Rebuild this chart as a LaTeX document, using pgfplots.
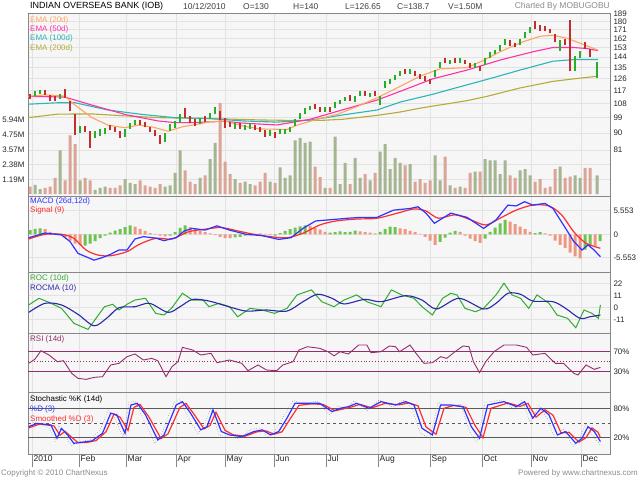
\documentclass[border=0pt]{standalone}
\usepackage{pgfplots}
\pgfplotsset{compat=1.18}
\usepackage{fontspec}
\setmainfont{Liberation Sans}
\definecolor{upc}{RGB}{40,175,40}
\definecolor{dnc}{RGB}{195,45,45}
\definecolor{vup}{RGB}{165,180,145}
\definecolor{vdn}{RGB}{218,165,150}
\definecolor{hup}{RGB}{110,195,80}
\definecolor{hdn}{RGB}{238,150,130}
\definecolor{ema20}{RGB}{255,165,95}
\definecolor{ema50}{RGB}{255,50,165}
\definecolor{ema100}{RGB}{45,180,180}
\definecolor{ema200}{RGB}{180,172,55}
\definecolor{rsic}{RGB}{150,45,110}
\definecolor{gridc}{RGB}{226,226,226}
\definecolor{panelbg}{RGB}{246,246,246}
\definecolor{framec}{RGB}{135,135,135}
\definecolor{macdc}{RGB}{50,50,255}
\definecolor{sigc}{RGB}{255,45,45}
\definecolor{rocc}{RGB}{50,170,50}
\definecolor{rocmac}{RGB}{40,40,170}
\newcommand{\fs}[1]{\fontsize{#1}{#1}\selectfont}
\pgfplotsset{
 panel/.style={scale only axis, width=582bp, xmin=28, xmax=610,
   xtick={32,79,126,176,225,274,326,378,430,482,531,581}, xticklabels={},
   axis line style={draw=framec, line width=0.8bp},
   major tick length=0pt,
   grid style={draw=gridc, line width=0.7bp},
   tick label style={font=\fs{8}, text=black!85},
   yticklabel pos=right,
   /pgf/number format/assume math mode=true,
   unbounded coords=jump, filter discard warning=false,
 },
}
\begin{document}
\begin{tikzpicture}
\path[use as bounding box, fill=white] (0,0) rectangle (640bp,480bp);
% ---------- price panel: background and grid
\begin{axis}[panel, at={(28bp,284bp)}, anchor=south west, height=183bp,
  ymode=log, ymin=60.9, ymax=189.5,
  ytick={81,90,99,108,117,126,135,144,153,162,171,180,189}, yticklabels={},
  xmajorgrids, ymajorgrids, axis background/.style={fill=panelbg}]
\addplot[draw=none] coordinates {(100,100)};
\end{axis}
% ---------- volume
\begin{axis}[panel, at={(28bp,284bp)}, anchor=south west, height=183bp,
  ymin=-0.15, ymax=14.5, yticklabel pos=left,
  ytick={1.19,2.38,3.57,4.75,5.94}, yticklabels={1.19M,2.38M,3.57M,4.75M,5.94M},
  extra y ticks={1.19,2.38}, extra y tick labels={}, extra y tick style={grid=major}]
\addplot[ybar, bar width=3, bar shift=0pt, fill=vup, draw=none] coordinates {
(35,0.75)(40,0.4)(60,3.5)(80,1.1)(95,0.35)(100,0.5)(105,0.6)(125,1.2)(130,0.9)(135,0.8)(165,0.6)(170,0.7)(175,1.7)(180,3.5)(200,1.3)(210,2.8)(215,4.1)(235,1.2)(245,1.0)(250,0.8)(270,1.0)(280,2.15)(285,1.3)(290,1.5)(295,4.3)(300,4.5)(305,4.1)(310,4.2)(325,0.5)(335,4.6)(340,0.8)(345,2.5)(355,2.9)(360,1.3)(370,1.1)(380,3.4)(385,4.0)(390,2.0)(395,2.9)(400,2.5)(410,2.4)(435,3.1)(440,1.1)(450,0.7)(460,0.6)(475,1.8)(485,2.8)(490,2.7)(495,2.7)(500,1.6)(505,2.7)(520,1.9)(525,2.0)(530,1.5)(560,2.2)(575,1.5)(580,1.3)(597,1.5)};
\addplot[ybar, bar width=3, bar shift=0pt, fill=vdn, draw=none] coordinates {
(30,0.6)(45,0.5)(50,0.6)(55,1.3)(65,1.1)(70,4.7)(75,4.0)(85,1.3)(90,1.1)(110,0.5)(115,0.5)(120,0.7)(140,1.1)(145,0.7)(150,0.6)(155,0.5)(160,0.8)(185,1.9)(190,1.0)(195,0.8)(205,1.5)(220,7.3)(225,2.6)(230,1.6)(240,0.9)(255,0.7)(260,1.0)(265,1.7)(275,0.9)(315,2.2)(320,1.36)(330,0.5)(350,0.8)(365,1.6)(375,1.7)(405,2.3)(415,1.0)(420,1.2)(425,0.9)(430,1.1)(445,3.0)(455,0.5)(465,0.5)(470,1.7)(480,1.8)(510,1.5)(515,1.3)(535,1.0)(540,1.2)(545,0.5)(550,0.6)(555,2.0)(565,1.3)(570,1.4)(585,2.1)(590,2.1)};
\end{axis}
% ---------- price bars and EMAs
\begin{axis}[panel, at={(28bp,284bp)}, anchor=south west, height=183bp,
  ymode=log, ymin=60.9, ymax=189.5,
  ytick={81,90,99,108,117,126,135,144,153,162,171,180,189},
  yticklabels={81,90,99,108,117,126,135,144,153,162,171,180,189}]
\addplot[ema200, line width=1.1bp] coordinates {(28,99)(58,101.2)(92,101.3)(125,100.1)(158,99)(192,98.6)(225,98.2)(260,97.6)(293,97.3)(320,97.3)(343,98)(377,100.4)(400,102.5)(420,105)(467,110)(487,113)(520,119)(553,124)(580,126.5)(598,128)};
\addplot[ema100, line width=1.1bp] coordinates {(28,107.6)(58,108.6)(75,108.6)(108,103.8)(142,101)(175,99)(208,98.5)(243,97)(277,96.3)(310,97.5)(343,100.7)(377,103.8)(400,109)(433,114.5)(453,118.5)(487,125.5)(520,133)(553,140.5)(575,142)(598,142)};
\addplot[ema50, line width=1.1bp] coordinates {(28,113)(65,112.5)(75,110.4)(92,107)(125,101)(158,97)(175,96)(192,96)(225,96.8)(243,95.7)(277,94.6)(310,98)(343,104)(377,110.4)(400,116.5)(433,126)(467,133)(500,141.5)(533,149)(553,153)(573,153)(587,152)(598,150)};
\addplot[ema20, line width=1.1bp] coordinates {(28,113)(45,114)(60,113.5)(65,113)(75,107)(92,99)(108,94.5)(125,93)(138,94.5)(152,93.5)(168,91)(182,93.5)(202,95.5)(210,96.5)(225,97)(243,94)(260,92.3)(287,92)(297,94.5)(317,98)(337,101)(357,106)(377,112)(397,119)(420,128)(440,134)(467,135)(483,141)(500,149)(523,158.5)(540,164)(553,165)(567,162)(583,156)(598,150.5)};
\addplot[upc, line width=1.5bp] table[row sep=\\] {
x y\\
35 113\\35 117\\35 nan\\
40 114.5\\40 117.5\\40 nan\\
60 111\\60 115\\60 nan\\
80 90\\80 94\\80 nan\\
95 87.5\\95 91\\95 nan\\
100 88.5\\100 92\\100 nan\\
105 89.5\\105 93\\105 nan\\
125 88\\125 92\\125 nan\\
130 92.5\\130 96\\130 nan\\
135 94.5\\135 97.5\\135 nan\\
165 85\\165 90\\165 nan\\
170 91\\170 95\\170 nan\\
175 93\\175 97\\175 nan\\
180 96\\180 101\\180 nan\\
200 95\\200 99\\200 nan\\
210 98\\210 102\\210 nan\\
215 101\\215 106\\215 nan\\
235 92.5\\235 95.5\\235 nan\\
245 91.5\\245 94.5\\245 nan\\
250 92.5\\250 95.5\\250 nan\\
270 88.5\\270 91.5\\270 nan\\
280 89.5\\280 92.5\\280 nan\\
285 89.5\\285 92.5\\285 nan\\
290 90.5\\290 93.5\\290 nan\\
295 94\\295 98\\295 nan\\
300 98\\300 102\\300 nan\\
305 101\\305 105\\305 nan\\
310 103.5\\310 106.5\\310 nan\\
325 102.5\\325 105.5\\325 nan\\
335 105\\335 109\\335 nan\\
340 107.5\\340 110.5\\340 nan\\
345 109.5\\345 112.5\\345 nan\\
355 109\\355 113\\355 nan\\
360 113.5\\360 117\\360 nan\\
370 112.5\\370 115.5\\370 nan\\
380 107\\380 113\\380 nan\\
385 119\\385 124\\385 nan\\
390 122\\390 126\\390 nan\\
395 125\\395 129\\395 nan\\
400 128\\400 132\\400 nan\\
410 130\\410 134\\410 nan\\
435 127\\435 133\\435 nan\\
440 135\\440 140\\440 nan\\
450 138\\450 142\\450 nan\\
460 139\\460 143\\460 nan\\
475 135\\475 139\\475 nan\\
485 137\\485 143\\485 nan\\
490 143\\490 149\\490 nan\\
495 147\\495 151\\495 nan\\
500 150\\500 155\\500 nan\\
505 155\\505 161\\505 nan\\
520 155\\520 161\\520 nan\\
525 162\\525 168\\525 nan\\
530 167\\530 174\\530 nan\\
560 150\\560 160\\560 nan\\
575 132\\575 145\\575 nan\\
580 143\\580 150\\580 nan\\
597 126.65\\597 140\\597 nan\\
};
\addplot[dnc, line width=1.5bp] table[row sep=\\] {
x y\\
30 111\\30 115\\30 nan\\
45 114\\45 117.5\\45 nan\\
50 110\\50 114\\50 nan\\
55 109.5\\55 113\\55 nan\\
65 112\\65 118\\65 nan\\
70 103\\70 110\\70 nan\\
75 89\\75 101\\75 nan\\
85 90.5\\85 94\\85 nan\\
90 82\\90 91\\90 nan\\
110 91.5\\110 94.5\\110 nan\\
115 90.5\\115 93.5\\115 nan\\
120 87\\120 91\\120 nan\\
140 94.5\\140 97.5\\140 nan\\
145 93.5\\145 96.5\\145 nan\\
150 90.5\\150 93.5\\150 nan\\
155 88.5\\155 91.5\\155 nan\\
160 84\\160 89\\160 nan\\
185 99\\185 105\\185 nan\\
190 96\\190 100\\190 nan\\
195 94\\195 98\\195 nan\\
205 96.5\\205 100\\205 nan\\
220 97.5\\220 103\\220 nan\\
225 93\\225 99\\225 nan\\
230 93.5\\230 96.5\\230 nan\\
240 92.5\\240 95.5\\240 nan\\
255 91.5\\255 94.5\\255 nan\\
260 90.5\\260 93.5\\260 nan\\
265 88\\265 91.5\\265 nan\\
275 87.5\\275 90.5\\275 nan\\
315 104.5\\315 107.5\\315 nan\\
320 102.5\\320 105.5\\320 nan\\
330 102.5\\330 105.5\\330 nan\\
350 110\\350 114\\350 nan\\
365 113.5\\365 116.5\\365 nan\\
375 113\\375 116.5\\375 nan\\
405 130\\405 134\\405 nan\\
415 128\\415 132\\415 nan\\
420 126\\420 130\\420 nan\\
425 124\\425 128\\425 nan\\
430 122\\430 126\\430 nan\\
445 139\\445 143\\445 nan\\
455 139\\455 143\\455 nan\\
465 138\\465 142\\465 nan\\
470 135\\470 139\\470 nan\\
480 132\\480 136\\480 nan\\
510 154\\510 160\\510 nan\\
515 153\\515 157\\515 nan\\
535 172\\535 180\\535 nan\\
540 170\\540 176\\540 nan\\
545 169\\545 175\\545 nan\\
550 167\\550 172\\550 nan\\
555 158\\555 166\\555 nan\\
565 155\\565 161\\565 nan\\
570 132\\570 181\\570 nan\\
585 152\\585 158\\585 nan\\
590 144\\590 152\\590 nan\\
};
\end{axis}
% ---------- MACD
\begin{axis}[panel, at={(28bp,208bp)}, anchor=south west, height=76bp,
  ymin=-8.9, ymax=9.05, ytick={-5.553,0,5.553}, yticklabels={-5.553,0,5.553},
  xmajorgrids, ymajorgrids, axis background/.style={fill=panelbg}]
\addplot[ybar, bar width=3, bar shift=0pt, fill=hup, draw=none] coordinates {
(30,1.0)(35,1.3)(40,1.4)(85,-2.7)(90,-2.2)(95,-1.6)(100,-0.9)(105,-0.3)(110,0.4)(115,0.9)(120,1.2)(125,1.7)(130,2.1)(170,-0.3)(175,0.5)(180,1.5)(185,2.1)(235,-0.7)(240,-0.6)(245,-0.3)(250,-0.2)(255,0.1)(275,-0.3)(280,0.3)(285,0.8)(290,1.2)(295,1.6)(300,1.9)(305,2.1)(330,0.4)(335,0.5)(340,0.7)(345,0.5)(350,0.6)(355,0.9)(380,0.6)(385,1.3)(390,1.8)(395,1.7)(440,-1.8)(445,-0.8)(450,0.4)(455,0.8)(485,-1.0)(490,0.6)(495,1.6)(500,2.6)(505,3.4)(535,0.3)(540,0.5)(585,-3.6)(590,-2.6)(600,-1.6)};
\addplot[ybar, bar width=3, bar shift=0pt, fill=hdn, draw=none] coordinates {
(45,1.2)(50,0.6)(55,0.3)(60,0.1)(65,-0.8)(70,-1.5)(75,-2.2)(80,-2.5)(135,1.8)(140,1.3)(145,0.8)(150,0.3)(155,0.1)(160,-0.3)(165,-0.5)(190,1.7)(195,1.2)(200,0.8)(205,0.5)(210,0.2)(215,-0.2)(220,-0.6)(225,-0.9)(230,-0.9)(260,0.2)(265,0.1)(270,-0.2)(310,2.0)(315,1.6)(320,1.1)(325,0.6)(360,0.7)(365,0.5)(370,0.4)(375,0.2)(400,1.4)(405,1.2)(410,0.8)(415,0.5)(420,0.1)(425,-0.6)(430,-1.5)(435,-2.5)(460,0.6)(465,-0.3)(470,-1.0)(475,-1.6)(480,-2.0)(510,3.0)(515,2.4)(520,1.8)(525,1.2)(530,0.6)(545,0.2)(550,-0.3)(555,-1.5)(560,-2.5)(565,-3.2)(570,-4.3)(575,-5.2)(580,-5.7)(595,-2.8)};
\addplot[sigc, line width=1.2bp, smooth] coordinates {(28.7,-1.1)(45,0)(61.5,0)(73.8,-0.95)(86,-3.7)(98,-4.9)(110.7,-5.05)(127,-4.1)(139,-2.4)(155.7,-0.95)(172,-1.1)(188.5,0.6)(205,1.2)(221,1.6)(237.7,0.8)(254,0)(270.5,-0.55)(287,-0.8)(303,0.25)(319.7,2.2)(336,3.15)(356.6,3.6)(377,3.8)(397.5,5.0)(414,6.0)(426,5.5)(438.5,3.8)(455,4.6)(471,3.4)(485.7,2.2)(500,3.8)(516,5.7)(532.8,6.9)(549,6.7)(561.5,4.6)(573.8,0.6)(586,-2.1)(600.4,-3.3)};
\addplot[macdc, line width=1.2bp] coordinates {(28.7,-0.8)(45,0.3)(61.5,-0.15)(70,-1.7)(78,-4.5)(86,-5.3)(94,-6.1)(102.5,-5.5)(110.7,-4.7)(119,-3.7)(127,-3.7)(135,-1.1)(143.4,-0.55)(155.7,-0.9)(164,-1.5)(176,-0.8)(184.4,0.8)(192.6,1.4)(205,1.0)(217,2.0)(229.5,1.0)(246,0)(262,-0.3)(278.7,-1.2)(291,-0.8)(303,1.4)(315.6,3.15)(328,3.4)(348,3.8)(360.7,4.0)(377,4.0)(393.4,5.7)(410,6.1)(418,6.5)(426,5.0)(434.4,2.6)(450.8,5.0)(467,4.0)(483.6,1.4)(496,3.4)(508,6.9)(516,6.7)(524.6,7.7)(532.8,6.9)(545,7.3)(553,6.1)(565.6,1.4)(573.8,-1.7)(582,-3.7)(588,-2.5)(594,-3.7)(600.4,-5.3)};
\end{axis}
% ---------- ROC
\begin{axis}[panel, at={(28bp,147bp)}, anchor=south west, height=61bp,
  ymin=-23.2, ymax=32.7, ytick={-11,0,11,22}, yticklabels={-11,0,11,22},
  xmajorgrids, ymajorgrids, axis background/.style={fill=panelbg}]
\addplot[rocc, line width=1bp] coordinates {(28.7,2.5)(39,8.6)(49,4.9)(61.5,-0.6)(74,-14.4)(88,-19.9)(96,-9.8)(104.5,0.9)(112.7,3.1)(119,-2.1)(127,3.1)(135,7.0)(145.5,8.6)(155.7,-5.2)(164,-6.7)(172,0)(182.4,13.2)(192.6,7.0)(203,7.0)(209,0.9)(219,4.0)(229.5,0.9)(237.7,-8.3)(250,-0.6)(262,-2.1)(274.6,-5.2)(287,-0.6)(297,11.7)(311.5,16.3)(321.7,5.5)(334,0.9)(344,7.0)(356.6,11.7)(366.8,5.5)(381,0.9)(391.4,16.3)(401.6,11.7)(414,8.6)(422,0.9)(432.4,-6.7)(442.6,8.6)(450.8,13.2)(457,11.7)(465,-0.6)(475.4,-3.7)(483.6,-0.6)(496,11.7)(504,22.4)(512,11.7)(520.5,8.6)(528.7,-0.6)(537,11.7)(549,4.0)(557,-6.7)(567.6,-9.8)(575.8,-18.4)(584,-2.1)(592,-5.2)(598.4,-9.8)(600.4,2.5)};
\addplot[rocmac, line width=1.1bp, smooth] coordinates {(28.7,-4.3)(45,4.0)(61.5,2.5)(78,-6.1)(94,-16.6)(106.5,-9.8)(119,0)(135,0.9)(149.6,4.0)(168,-4.3)(180,0.9)(192.6,7.6)(209,6.1)(225.4,1.8)(246,-3.1)(266,-2.1)(287,-3.1)(303,5.5)(317.6,12.3)(332,8.6)(344,3.4)(364.8,7.6)(381,5.5)(405.7,11.0)(422,7.0)(436.5,-1.2)(459,8.6)(483.6,-1.2)(496,4.0)(508,13.2)(520.5,12.3)(532.8,6.1)(553,5.5)(565.6,-0.6)(580,-9.8)(590,-8.3)(600.4,-6.7)};
\end{axis}
% ---------- RSI
\begin{axis}[panel, at={(28bp,88bp)}, anchor=south west, height=59bp,
  ymin=-10.6, ymax=107.4, ytick={30,70}, yticklabels={30\%,70\%},
  xmajorgrids, axis background/.style={fill=panelbg}]
\addplot[rsic, line width=1.1bp] coordinates {(28,70)(610,70)};
\addplot[rsic, line width=1.1bp] coordinates {(28,30)(610,30)};
\addplot[rsic, line width=0.9bp, dotted] coordinates {(28,50)(610,50)};
\addplot[rsic, line width=0.9bp] coordinates {(28.7,46.8)(34.8,54.7)(41,72)(49,63.4)(57.4,50)(63.5,52)(71.7,26.7)(78,16.7)(86,14.7)(94.3,18.7)(102.5,20)(110.7,43.4)(119,46.7)(127,60)(135,65.4)(143.4,53.4)(151.6,56.7)(157.8,52)(166,20)(172,40)(178,50)(182.4,78.7)(192.6,73.4)(200.8,63.4)(211,66.7)(217,48)(229.5,53.4)(241.8,46.7)(248,32)(258,43.4)(266.4,33.4)(276.6,32)(282.8,43.4)(293,50)(299,73.4)(307.4,80)(319.7,76.7)(328,70)(334,61.7)(340,70)(348.4,65.4)(358.6,83.4)(366.8,83.4)(371,68)(381,70)(389.3,81.4)(395.5,80)(399.6,70)(410,83.4)(416,66.7)(424,46.7)(432.4,48)(440.6,60)(446.7,56.7)(455,70)(463,81.4)(469,80)(473.4,50)(479.5,28)(485.7,50)(494,70)(504,83.4)(516.4,83.4)(526.6,78.7)(532.8,63.4)(545,66.7)(555.3,46.7)(563.5,46.7)(573.8,26.7)(578,23.4)(586,43.4)(594.3,34.7)(600.4,38.7)};
\end{axis}
% ---------- Stochastic
\begin{axis}[panel, at={(28bp,26bp)}, anchor=south west, height=62bp,
  ymin=-13.3, ymax=113.3, ytick={20,80}, yticklabels={20\%,80\%},
  xticklabels={2010,Feb,Mar,Apr,May,Jun,Jul,Aug,Sep,Oct,Nov,Dec},
  xticklabel style={anchor=north west, inner sep=1.5bp, font=\fs{8.5}},
  xmajorgrids, axis background/.style={fill=panelbg}]
\addplot[black!65, line width=1.6bp] coordinates {(28,80)(610,80)};
\addplot[black!65, line width=1.6bp] coordinates {(28,20)(610,20)};
\addplot[black!65, line width=0.8bp, dashed] coordinates {(28,50)(610,50)};
\addplot[black!55, line width=0.5bp, dotted] coordinates {(28.7,45)(35,52)(49,40)(55,12)(59,45)(66,20)(72,4)(80,12)(90,16)(100,35)(108,76)(115,60)(123,20)(129,92)(135,95)(143,60)(155,8)(162,30)(174,92)(180,98)(188,62)(198,28)(205,50)(211,82)(219,25)(227,22)(239,18)(252,38)(260,40)(268,20)(276,38)(285,68)(293,96)(305,88)(317,95)(330,66)(338,85)(346,78)(354,95)(367,75)(379,97)(393,82)(403,97)(412,80)(420,30)(430,18)(438,92)(448,84)(461,88)(469,35)(477,10)(485,92)(502,97)(514,78)(522,97)(530,52)(539,85)(547,60)(555,18)(563,38)(573,2)(580,22)(586,50)(592,25)(600.4,5)};
\addplot[sigc, line width=1.2bp] coordinates {(28.7,40)(40,48)(54,44)(60,25)(65,33)(71,22)(78,10)(86,10)(96,14)(106,32)(114,68)(120,62)(128,35)(134,82)(140,88)(149,62)(161,18)(168,28)(180,82)(186,90)(194,68)(204,38)(210,45)(216,72)(225,35)(233,26)(245,23)(257,32)(266,34)(274,27)(282,32)(290,58)(299,86)(311,89)(323,88)(335,75)(344,79)(352,83)(360,88)(372,81)(385,90)(399,87)(409,91)(418,85)(426,42)(436,27)(444,80)(454,86)(466,82)(475,45)(483,20)(491,80)(508,91)(520,84)(528,90)(536,62)(545,77)(553,66)(561,30)(569,31)(579,11)(586,20)(592,40)(598,31)(600.4,20)};
\addplot[macdc, line width=1.2bp] coordinates {(28.7,42.5)(37,49)(51,46)(57,19)(61.5,39)(67.6,25.6)(73.8,8.6)(82,10.6)(92,13.4)(102.5,29)(110.7,70)(116.8,66.6)(125,29)(131,86.8)(137.3,90.2)(145.5,66.6)(157.8,15.4)(164,25.6)(176.2,86.8)(182.4,93.6)(190.6,70)(200.8,36)(207,42.5)(213,76.8)(221.3,32.6)(229.5,25.6)(241.8,22.2)(254,32.6)(262.3,36)(270.5,25.6)(278.7,32.6)(287,60)(295,90.2)(307.4,90.2)(319.7,90.2)(332,73.2)(340,80)(348.4,83.4)(356.6,90.2)(369,80)(381,93.6)(395.5,86.8)(405.7,93.6)(414,86.8)(422,39.2)(432.4,25.6)(440.6,86.8)(450.8,86.8)(463,83.4)(471.3,42.5)(479.5,18.8)(487.7,86.8)(504,93.6)(516.4,83.4)(524.6,93.6)(532.8,60)(541,80)(549,66.6)(557.4,25.6)(565.6,32.6)(575.8,8.6)(582,18.8)(588,42.5)(594.3,32.6)(600.4,12.2)};
\end{axis}
% month tick marks
\foreach \xx in {32,79,126,176,225,274,326,378,430,482,531,581}
  \draw[framec, line width=0.8bp] (\xx bp,26bp) -- (\xx bp,13bp);
% header
\node[anchor=west, inner sep=0, font=\fs{9}] at (30bp,473.5bp) {INDIAN OVERSEAS BANK (IOB)};
\begin{scope}[every node/.style={anchor=west, inner sep=0, font=\fs{8.5}, text=black!75}]
\node at (183bp,473.5bp) {10/12/2010};
\node at (243bp,473.5bp) {O=130};
\node at (293bp,473.5bp) {H=140};
\node at (345bp,473.5bp) {L=126.65};
\node at (397bp,473.5bp) {C=138.7};
\node at (448bp,473.5bp) {V=1.50M};
\end{scope}
\node[anchor=east, inner sep=0, font=\fs{8.5}, text=black!45] at (610bp,473.5bp) {Charted By MOBUGOBU};
% panel labels
\begin{scope}[every node/.style={anchor=west, inner sep=0, font=\fs{8}}]
\node[text=ema20] at (30bp,460bp) {EMA (20d)};
\node[text=ema50] at (30bp,450.7bp) {EMA (50d)};
\node[text=ema100] at (30bp,441.3bp) {EMA (100d)};
\node[text=ema200] at (30bp,431.5bp) {EMA (200d)};
\node[text=macdc] at (30bp,278.5bp) {MACD (26d,12d)};
\node[text=sigc] at (30bp,269.5bp) {Signal (9)};
\node[text=rocc] at (30bp,201.5bp) {ROC (10d)};
\node[text=rocmac] at (30bp,192bp) {ROCMA (10)};
\node[text=rsic] at (30bp,141bp) {RSI (14d)};
\node[text=black] at (30bp,80.5bp) {Stochastic \%K (14d)};
\node[text=macdc] at (30bp,71bp) {\%D (3)};
\node[text=sigc] at (30bp,61bp) {Smoothed \%D (3)};
\end{scope}
% footer
\node[anchor=west, inner sep=0, font=\fs{8}, text=black!45] at (1bp,7bp) {Copyright © 2010 ChartNexus};
\node[anchor=east, inner sep=0, font=\fs{8}, text=black!45] at (638bp,7bp) {Powered by www.chartnexus.com};
\end{tikzpicture}
\end{document}
